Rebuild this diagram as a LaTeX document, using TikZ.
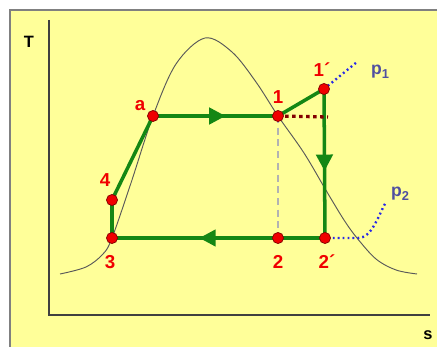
\documentclass[tikz,border=0pt]{standalone}
\usepackage{fontspec}
\setmainfont{Liberation Sans}
\usetikzlibrary{arrows.meta,decorations.markings}
\definecolor{bgyellow}{RGB}{255,255,153}
\definecolor{cyclegreen}{RGB}{20,135,20}
\definecolor{ptred}{RGB}{240,0,0}
\definecolor{pblue}{RGB}{80,80,160}
\definecolor{dotblue}{RGB}{40,40,230}
\definecolor{darkred}{RGB}{130,0,0}
\tikzset{
  pt/.style={circle,fill=ptred,draw=darkred,line width=0.6pt,minimum size=9.5pt,inner sep=0pt},
  lbl/.style={text=ptred,font=\fontsize{16}{16}\selectfont\bfseries,inner sep=0pt},
  plbl/.style={text=pblue,font=\fontsize{15}{15}\selectfont\bfseries,inner sep=0pt},
  axlbl/.style={text=black,font=\fontsize{14}{14}\selectfont\bfseries,inner sep=0pt},
  cyc/.style={draw=cyclegreen,line width=3pt},
  midarrow/.style={postaction={decorate},decoration={markings,
     mark=at position #1 with {\arrow{Triangle[length=14pt,width=14pt]}}}},
  dome/.style={draw=black!65,line width=0.8pt},
  pdots/.style={draw=dotblue,line width=2pt,dash pattern=on 1.6pt off 2.6pt},
}
\newcommand{\psub}[1]{p\raisebox{-0.25em}{\fontsize{11}{11}\selectfont #1}}
\begin{document}
\begin{tikzpicture}[x=0.03cm,y=-0.03cm]
\useasboundingbox (0,0) rectangle (437,347);
\fill[white] (0,0) rectangle (437,347);
\fill[bgyellow] (10,10) rectangle (437,347);
\draw[black!50,line width=1.6pt] (10,347) -- (10,10) -- (437,10);
% axes
\coordinate (yt) at (49,20);
\coordinate (o) at (49,315);
\coordinate (xe) at (430,315);
\draw[black!75,line width=1.2pt] (yt) -- (o) -- (xe);
\node[axlbl] (T) at (29,42) {T};
\node[axlbl] (s) at (428,335) {s};
% saturation dome
\draw[dome] plot[smooth,tension=0.55] coordinates {(60,274) (86,267) (103,254) (112,238) (131,183) (153,116) (176,64) (205,38) (232,52) (256,82) (278,116) (304,153) (327,192) (344,220) (357,238) (376,259) (396,270) (417,274)};
% points
\coordinate (P1) at (278,116);
\coordinate (P1p) at (324,89);
\coordinate (Pa) at (153,116);
\coordinate (P4) at (112,200);
\coordinate (P3) at (112,238);
\coordinate (P2) at (278,238);
\coordinate (P2p) at (325,238);
\coordinate (p1end) at (357,62);
\coordinate (p2start) at (195,238);
\coordinate (p2end) at (386,202);
\coordinate (drend) at (328,117);
% helper lines
\draw[black!30,line width=2.4pt,dash pattern=on 6pt off 4pt] (P1) -- (P2);
\draw[pdots] (p2start) -- (P2p) -- (358,238) .. controls (372,238) and (378,216) .. (p2end);
\draw[pdots] (P1p) -- (p1end);
% cycle
\draw[cyc] (P3) -- (P4) -- (Pa);
\draw[cyc,midarrow=0.58] (Pa) -- (P1);
\draw[cyc] (P1) -- (P1p);
\draw[cyc,midarrow=0.55] (P1p) -- (P2p);
\draw[cyc,midarrow=0.59] (P2p) -- (P3);
\draw[darkred,line width=2.8pt,dash pattern=on 3pt off 3pt] (P1) -- (drend);
% dots
\foreach \p in {P1,P1p,Pa,P4,P3,P2,P2p} \node[pt] at (\p) {};
% labels
\node[lbl] (la) at (140,106) {a};
\node[lbl] (l1) at (278,97) {1};
\node[lbl] (l1p) at (322,70) {1´};
\node[lbl] (l4) at (105,180) {4};
\node[lbl] (l3) at (110,262) {3};
\node[lbl] (l2) at (278,262) {2};
\node[lbl] (l2p) at (327,262) {2´};
\node[plbl] (lp1) at (380,72) {\psub{1}};
\node[plbl] (lp2) at (400,194) {\psub{2}};
\end{tikzpicture}
\end{document}
